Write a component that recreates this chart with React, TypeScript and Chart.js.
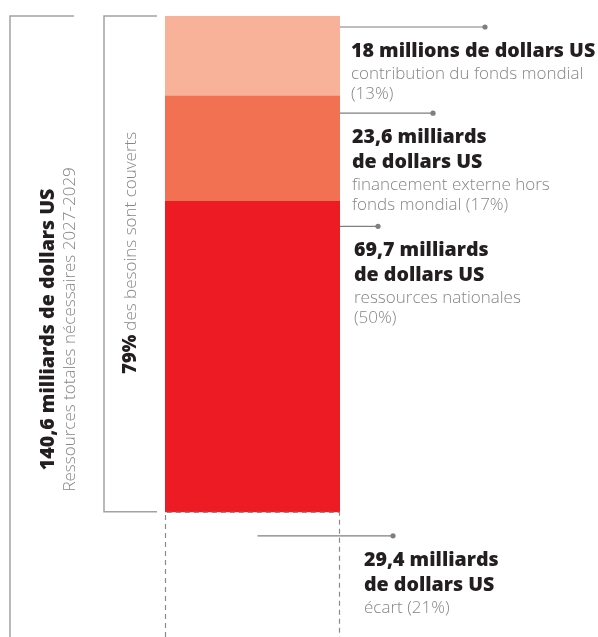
import React, { useEffect, useRef } from "react";
import { Chart, registerables } from "chart.js";

Chart.register(...registerables);

// ---- Data ----
const categories = ["Besoins 2027-2029"];
const gapValues = [29.4]; // écart
const domesticValues = [69.7]; // ressources nationales
const externalValues = [23.6]; // financement externe hors fonds mondial
const globalFundValues = [18]; // contribution du fonds mondial
const totalLabel = "140,6 milliards de dollars US";
const totalSubLabel = "Ressources totales nécessaires 2027-2029";
const coveredBold = "79%";
const coveredText = "des besoins sont couverts";

const boldLabels = [
  ["18 millions de dollars US"],
  ["23,6 milliards", "de dollars US"],
  ["69,7 milliards", "de dollars US"],
  ["29,4 milliards", "de dollars US"],
];
const greyLabels = [
  ["contribution du fonds mondial", "(13%)"],
  ["financement externe hors", "fonds mondial (17%)"],
  ["ressources nationales", "(50%)"],
  ["écart (21%)"],
];

// ---- Styles / layout ----
const COLORS = ["rgba(0,0,0,0)", "#ED1C24", "#F27152", "#F8B29A"];
const BOLD_FONT = "800 19.6px 'Open Sans'";
const BOLD_SMALL = "800 18.5px 'Open Sans'";
const GREY_FONT = "300 17px 'Open Sans'";
const TEXT_DARK = "#231f20";
const TEXT_GREY = "#868686";
const LINE_GREY = "#7f7f7f";
const BRACKET_GREY = "#a3a3a3";
const AXIS_MIN = 1.3;

// dataset index, leader offset below segment top, leader end offset from bar right, text x offset
const annotationLayout = [
  { ds: 3, dy: 11, lineEnd: 145, textDx: 11, startFromCenter: false },
  { ds: 2, dy: 17, lineEnd: 93, textDx: 12, startFromCenter: false },
  { ds: 1, dy: 25, lineEnd: 38, textDx: 14, startFromCenter: false },
  { ds: 0, dy: 24, lineEnd: 53, textDx: 24, startFromCenter: true },
];

const overlayPlugin = {
  id: "overlay",
  afterDatasetsDraw(chart: any) {
    const ctx: CanvasRenderingContext2D = chart.ctx;
    const H = chart.height;
    const bars = [0, 1, 2, 3].map((i) => chart.getDatasetMeta(i).data[0]);
    const getRect = (el: any) => ({
      left: el.x - el.width / 2,
      right: el.x + el.width / 2,
      top: Math.min(el.y, el.base),
      bottom: Math.max(el.y, el.base),
      cx: el.x,
    });
    const gap = getRect(bars[0]);
    const topEl = getRect(bars[3]);

    ctx.save();
    // dashed outline of the gap
    ctx.strokeStyle = "#8a8a8a";
    ctx.lineWidth = 1.2;
    ctx.setLineDash([5, 4]);
    ctx.beginPath();
    ctx.moveTo(gap.left + 0.5, H);
    ctx.lineTo(gap.left + 0.5, gap.top + 0.5);
    ctx.lineTo(gap.right - 0.5, gap.top + 0.5);
    ctx.lineTo(gap.right - 0.5, H);
    ctx.stroke();
    ctx.setLineDash([]);

    // brackets
    ctx.strokeStyle = BRACKET_GREY;
    ctx.lineWidth = 1.5;
    const outerX = 10;
    ctx.beginPath();
    ctx.moveTo(74, topEl.top);
    ctx.lineTo(outerX, topEl.top);
    ctx.lineTo(outerX, H);
    ctx.stroke();
    const innerX = 104;
    ctx.beginPath();
    ctx.moveTo(157, topEl.top);
    ctx.lineTo(innerX, topEl.top);
    ctx.lineTo(innerX, gap.top);
    ctx.lineTo(157, gap.top);
    ctx.stroke();

    // leaders + labels
    annotationLayout.forEach((a, k) => {
      const r = getRect(bars[a.ds]);
      const y = r.top + a.dy;
      const x0 = a.startFromCenter ? r.cx + 5 : r.right;
      const x1 = r.right + a.lineEnd;
      ctx.strokeStyle = LINE_GREY;
      ctx.lineWidth = 1.2;
      ctx.beginPath();
      ctx.moveTo(x0, y);
      ctx.lineTo(x1, y);
      ctx.stroke();
      ctx.fillStyle = LINE_GREY;
      ctx.beginPath();
      ctx.arc(x1, y, 2.6, 0, Math.PI * 2);
      ctx.fill();

      const tx = r.right + a.textDx;
      let ty = y + 30;
      ctx.textAlign = "left";
      ctx.textBaseline = "alphabetic";
      ctx.font = BOLD_FONT;
      ctx.fillStyle = TEXT_DARK;
      boldLabels[k].forEach((line, j) => {
        if (j > 0) ty += 25;
        ctx.fillText(line, tx, ty);
      });
      ty += 22;
      ctx.font = GREY_FONT;
      ctx.fillStyle = TEXT_GREY;
      greyLabels[k].forEach((line, j) => {
        if (j > 0) ty += 20;
        ctx.fillText(line, tx, ty);
      });
    });

    // rotated total labels
    const outerCenter = (topEl.top + gap.bottom) / 2;
    ctx.save();
    ctx.translate(54, outerCenter);
    ctx.rotate(-Math.PI / 2);
    ctx.textAlign = "center";
    ctx.font = BOLD_FONT;
    ctx.fillStyle = TEXT_DARK;
    ctx.fillText(totalLabel, 0, 0);
    ctx.restore();

    ctx.save();
    ctx.translate(75, outerCenter);
    ctx.rotate(-Math.PI / 2);
    ctx.textAlign = "center";
    ctx.font = GREY_FONT;
    ctx.fillStyle = TEXT_GREY;
    ctx.fillText(totalSubLabel, 0, 0);
    ctx.restore();

    // covered label
    const innerCenter = (topEl.top + gap.top) / 2 - 11;
    ctx.save();
    ctx.translate(136, innerCenter);
    ctx.rotate(-Math.PI / 2);
    ctx.textAlign = "left";
    ctx.font = BOLD_SMALL;
    const wb = ctx.measureText(coveredBold).width + 4;
    ctx.font = GREY_FONT;
    const wg = ctx.measureText(coveredText).width;
    const start = -(wb + wg) / 2;
    ctx.font = BOLD_SMALL;
    ctx.fillStyle = TEXT_DARK;
    ctx.fillText(coveredBold, start, 0);
    ctx.font = GREY_FONT;
    ctx.fillStyle = TEXT_GREY;
    ctx.fillText(coveredText, start + wb, 0);
    ctx.restore();

    ctx.restore();
  },
};

export default function App() {
  const ref = useRef<HTMLCanvasElement>(null);
  useEffect(() => {
    if (!ref.current) return;
    const chart = new Chart(ref.current, {
      type: "bar",
      data: {
        labels: categories,
        datasets: [
          { label: "écart", data: gapValues, backgroundColor: COLORS[0] },
          { label: "ressources nationales", data: domesticValues, backgroundColor: COLORS[1] },
          { label: "financement externe hors fonds mondial", data: externalValues, backgroundColor: COLORS[2] },
          { label: "contribution du fonds mondial", data: globalFundValues, backgroundColor: COLORS[3] },
        ],
      },
      options: {
        animation: false,
        responsive: false,
        devicePixelRatio: 1,
        layout: { padding: { left: 165, right: 258, top: 16, bottom: 0 } },
        datasets: { bar: { barPercentage: 1, categoryPercentage: 1, borderWidth: 0 } },
        plugins: { legend: { display: false }, tooltip: { enabled: false } },
        scales: {
          x: { stacked: true, display: false },
          y: {
            stacked: true,
            display: false,
            min: AXIS_MIN,
            max: gapValues[0] + domesticValues[0] + externalValues[0] + globalFundValues[0],
          },
        },
      },
      plugins: [overlayPlugin],
    });
    return () => chart.destroy();
  }, []);
  return (
    <div style={{ position: "absolute", left: 0, top: 0, width: 598, height: 637, background: "#fff" }}>
      <canvas ref={ref} width={598} height={637} style={{ display: "block" }} />
    </div>
  );
}
